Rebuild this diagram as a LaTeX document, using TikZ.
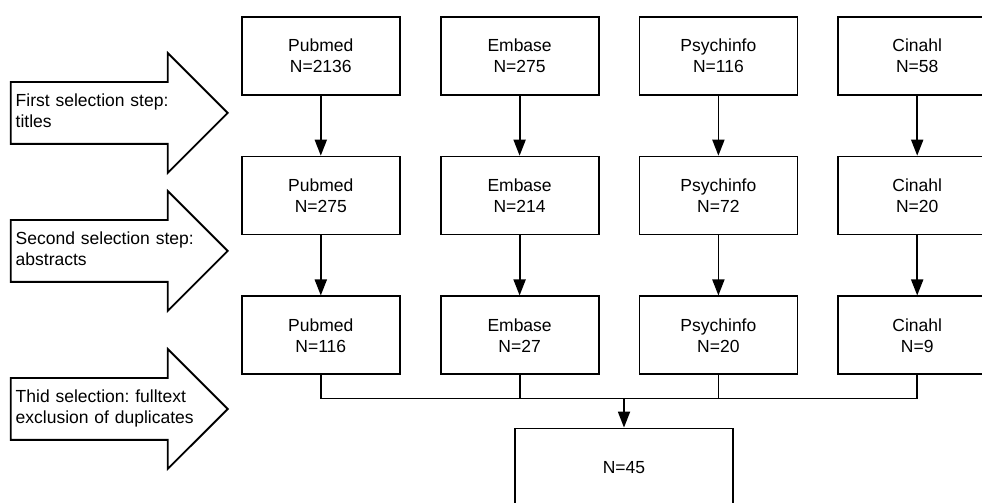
\documentclass[tikz,border=0pt]{standalone}
\usepackage{fontspec}
\setmainfont{Liberation Sans}
\frenchspacing
\usetikzlibrary{arrows.meta,positioning,shapes.arrows}
\tikzset{dbbox/.style={
    rectangle,
    draw,
    anchor=center,
    line width=1.8pt,
    text width=150pt,
    inner sep=4pt,
    align=center,
    minimum height=78pt,
    minimum width=158pt,
    font=\fontsize{17.5}{21}\selectfont
  },
  totalbox/.style={dbbox,text width=210pt,minimum width=218pt},
  steparrow/.style={
    single arrow,
    draw,
    line width=1.8pt,
    single arrow tip angle=90,
    single arrow head extend=29pt,
    inner xsep=0pt,
    inner ysep=30pt,
    minimum height=217pt
  },
  steptext/.style={
    text width=200pt,
    align=left,
    inner sep=0pt,
    anchor=base west,
    font=\fontsize{17.5}{21}\selectfont
  },
}

\begin{document}
\begin{tikzpicture}[x=1pt,y=1pt,line width=1.8pt,>={Triangle[length=16pt,width=12pt]}]
  \useasboundingbox (0,0) rectangle (982,503);
  \clip (0,0) rectangle (982,503);
  \matrix[column sep=39pt,row sep=60pt,ampersand replacement=\&,inner sep=0pt,anchor=north west] at (240,488) {
    \node [dbbox] (pub1) {Pubmed\\N=2136}; \& \node [dbbox] (emb1) {Embase\\N=275}; \&
    \node [dbbox] (psy1) {Psychinfo\\N=116}; \& \node [dbbox] (cin1) {Cinahl\\N=58}; \\
    \node [dbbox] (pub2) {Pubmed\\N=275}; \& \node [dbbox] (emb2) {Embase\\N=214}; \&
    \node [dbbox] (psy2) {Psychinfo\\N=72}; \& \node [dbbox] (cin2) {Cinahl\\N=20}; \\
    \node [dbbox] (pub3) {Pubmed\\N=116}; \& \node [dbbox] (emb3) {Embase\\N=27}; \&
    \node [dbbox] (psy3) {Psychinfo\\N=20}; \& \node [dbbox] (cin3) {Cinahl\\N=9}; \\
  };
  \draw[->] (pub1) -- (pub2);
  \draw[->] (pub2) -- (pub3);
  \draw[->] (emb1) -- (emb2);
  \draw[->] (emb2) -- (emb3);
  \draw[->] (psy1) -- (psy2);
  \draw[->] (psy2) -- (psy3);
  \draw[->] (cin1) -- (cin2);
  \draw[->] (cin2) -- (cin3);

  % merge into the final count
  \node [totalbox] (total) at (624,35.5) {N=45};
  \coordinate[above=29pt of total] (merge);
  \draw (pub3) |- (merge);
  \draw (cin3) |- (merge);
  \draw (emb3) -- (emb3 |- merge);
  \draw (psy3) -- (psy3 |- merge);
  \draw[->] (merge) -- (total);

  % selection steps
  \node [steparrow,anchor=tip] (sel1) at (229,390) {};
  \node [steptext] (sel1txt) at ([shift={(5pt,6.5pt)}]sel1.tail) {First selection step:\\titles};
  \node [steparrow,anchor=tip] (sel2) at (229,252) {};
  \node [steptext] (sel2txt) at ([shift={(5pt,6.5pt)}]sel2.tail) {Second selection step:\\abstracts};
  \node [steparrow,anchor=tip] (sel3) at (229,94) {};
  \node [steptext] (sel3txt) at ([shift={(5pt,6.5pt)}]sel3.tail) {Thid selection: fulltext\\exclusion of duplicates};
\end{tikzpicture}
\end{document}
